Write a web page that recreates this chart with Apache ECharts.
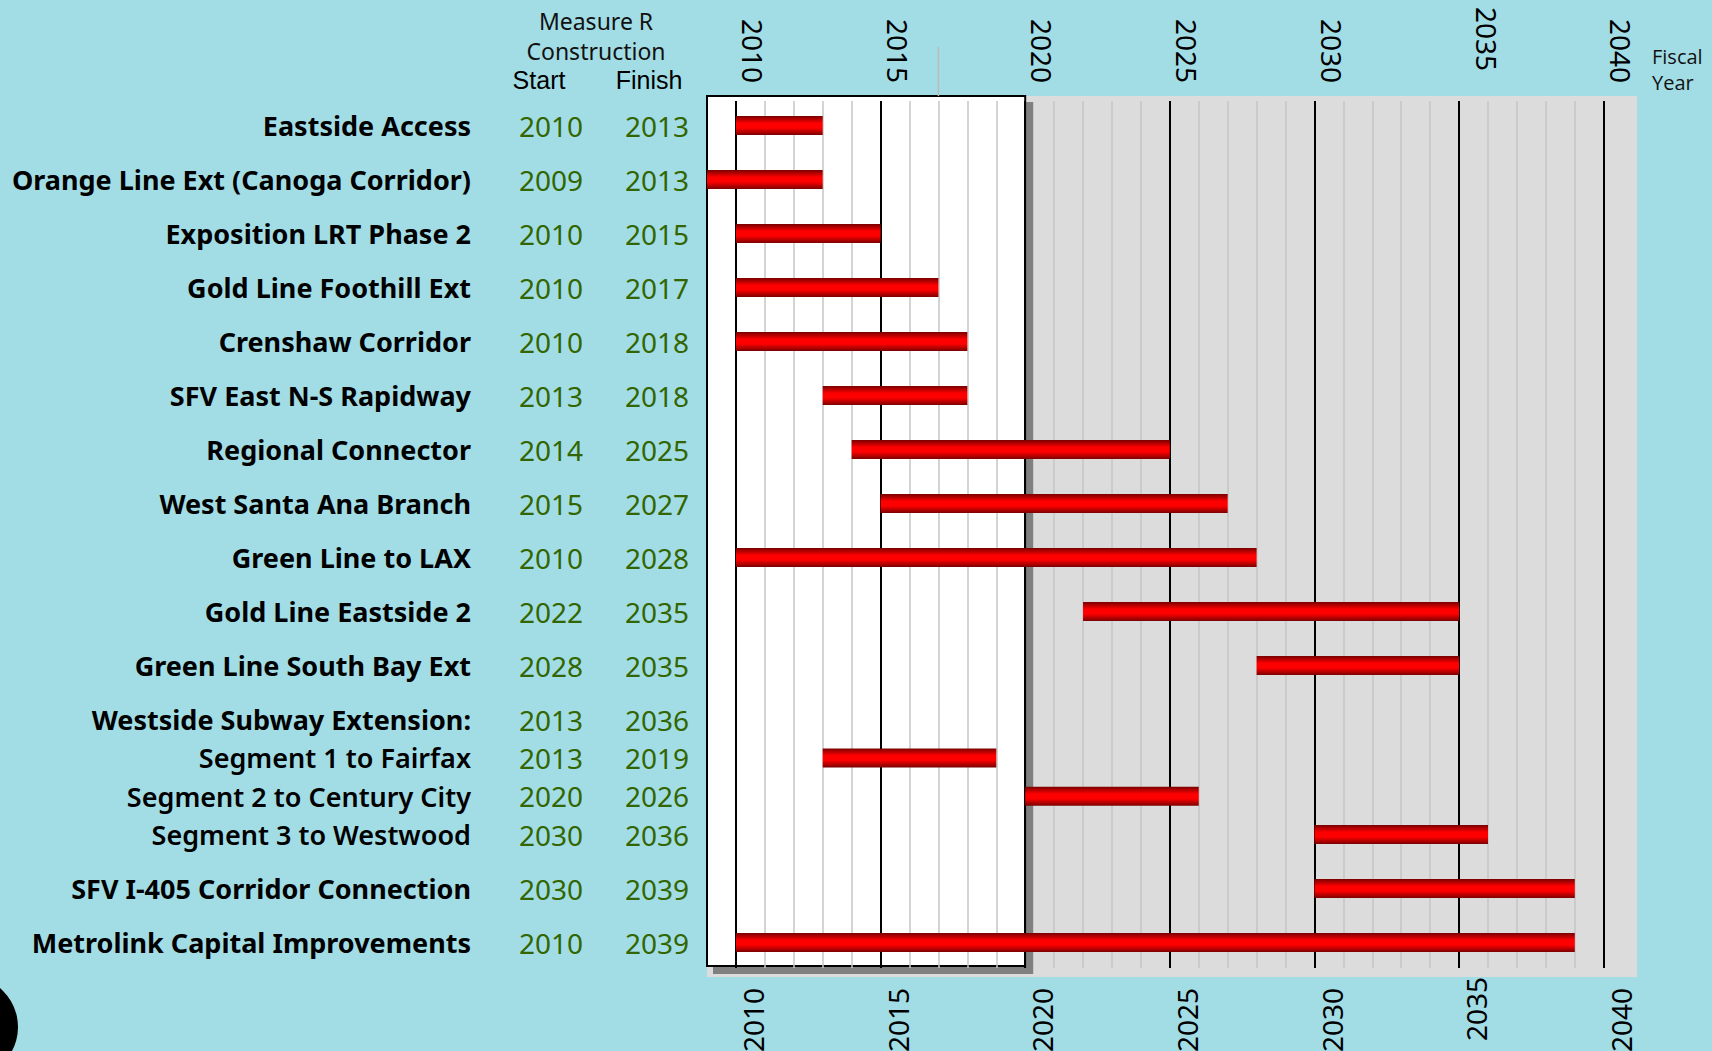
<!DOCTYPE html>
<html>
<head>
<meta charset="utf-8">
<title>Measure R Construction Schedule</title>
<script src="https://cdn.jsdelivr.net/npm/echarts@6.0.0/dist/echarts.min.js"></script>
<style>
  html, body { margin: 0; padding: 0; background: #a2dde6; }
  #chart { width: 1712px; height: 1051px; }
</style>
</head>
<body>
<div id="chart"></div>
<script>
// project rows, top to bottom
const names = [
  'Eastside Access',
  'Orange Line Ext (Canoga Corridor)',
  'Exposition LRT Phase 2',
  'Gold Line Foothill Ext',
  'Crenshaw Corridor',
  'SFV East N-S Rapidway',
  'Regional Connector',
  'West Santa Ana Branch',
  'Green Line to LAX',
  'Gold Line Eastside 2',
  'Green Line South Bay Ext',
  'Westside Subway Extension:',
  'Segment 1 to Fairfax',
  'Segment 2 to Century City',
  'Segment 3 to Westwood',
  'SFV I-405 Corridor Connection',
  'Metrolink Capital Improvements'
]
// main = project, head = group title (no bar), sub = segment of the group
const kinds = ['main', 'main', 'main', 'main', 'main', 'main', 'main', 'main', 'main',
  'main', 'main', 'head', 'sub', 'sub', 'sub', 'main', 'main']
const starts = [2010, 2009, 2010, 2010, 2010, 2013, 2014, 2015, 2010, 2022, 2028,
  2013, 2013, 2020, 2030, 2030, 2010]
const finishes = [2013, 2013, 2015, 2017, 2018, 2018, 2025, 2027, 2028, 2035, 2035,
  2036, 2019, 2026, 2036, 2039, 2039]
const yearTicks = [2010, 2015, 2020, 2025, 2030, 2035, 2040]
// the 2035 label is set a bit apart from the others in the original
const oddTick = [2035]

const X_MIN = 2009
const X_MAX = 2041.15
const LABEL_SHIFT = 0.59   // year labels sit a little right of their line
const Y_MIN = -0.548
const Y_MAX = 15.767
const BAR_H = 19
const GREEN = '#336600'
const FONT = 'Noto Sans'

// row positions: segments are packed closer together
const rowPos = []
let pos = 0
kinds.forEach((k, i) => {
  if (i > 0) pos += (k === 'sub' ? 0.71 : 1)
  rowPos.push(Math.round(pos * 100) / 100)
})

const rowIndex = v => {
  let best = 0
  rowPos.forEach((p, i) => { if (Math.abs(p - v) < Math.abs(rowPos[best] - v)) best = i })
  return best
}

const barData = []
names.forEach((n, i) => {
  if (kinds[i] !== 'head') barData.push([starts[i], finishes[i], rowPos[i]])
})

// vertical grid lines
const Y_TOP = -0.455
const Y_BOT = 15.6
const vline = x => [{ coord: [x, Y_TOP] }, { coord: [x, Y_BOT] }]
const minorLines = []
for (let y = 2010; y <= 2040; y++) {
  if (y % 5 !== 0) minorLines.push(vline(y))
}
const majorLines = yearTicks.map(vline)

const barFill = new echarts.graphic.LinearGradient(0, 0, 0, 1, [
  { offset: 0, color: '#7a0000' },
  { offset: 0.38, color: '#ff0000' },
  { offset: 0.62, color: '#ff0000' },
  { offset: 1, color: '#7a0000' }
])

// axis used only to print year labels
const labelAxis = (position, values, margin, shift) => ({
  type: 'value',
  position: position,
  min: X_MIN - shift,
  max: X_MAX - shift,
  axisLine: { show: false },
  axisTick: { show: false },
  splitLine: { show: false },
  axisLabel: {
    customValues: values,
    rotate: 90,
    margin: margin,
    color: '#000',
    fontFamily: FONT,
    fontSize: 28,
    formatter: v => String(v)
  }
})

const evenTicks = yearTicks.filter(y => oddTick.indexOf(y) < 0)

const chart = echarts.init(document.getElementById('chart'), null, { renderer: 'svg' })

const option = {
  backgroundColor: '#a2dde6',
  animation: false,
  grid: {
    left: 707,
    right: 75,
    top: 96,
    bottom: 74,
    show: true,
    backgroundColor: '#dcdcdc',
    borderWidth: 0,
    outerBoundsMode: 'none'
  },
  xAxis: [
    { type: 'value', min: X_MIN, max: X_MAX, show: false },
    labelAxis('top', evenTicks, 13, LABEL_SHIFT),
    labelAxis('top', oddTick, 25, 0.95),
    labelAxis('bottom', evenTicks, 11, LABEL_SHIFT),
    labelAxis('bottom', oddTick, 0, LABEL_SHIFT)
  ],
  yAxis: {
    type: 'value',
    inverse: true,
    min: Y_MIN,
    max: Y_MAX,
    axisLine: { show: false },
    axisTick: { show: false },
    splitLine: { show: false },
    axisLabel: {
      customValues: rowPos,
      margin: 18,
      formatter: v => {
        const i = rowIndex(v)
        const style = kinds[i] === 'sub' ? 'm' : 'n'
        return '{' + style + '|' + names[i] + '}{s|' + starts[i] + '}{f|' + finishes[i] + '}'
      },
      rich: {
        n: { fontFamily: FONT, fontWeight: 'bold', fontSize: 27, color: '#000', align: 'right' },
        m: { fontFamily: FONT, fontWeight: 600, fontSize: 27, color: '#000', align: 'right' },
        s: { fontFamily: FONT, fontSize: 28, color: GREEN, width: 112, align: 'right' },
        f: { fontFamily: FONT, fontSize: 28, color: GREEN, width: 106, align: 'right' }
      }
    }
  },
  series: [
    {
      name: 'box',
      type: 'line',
      data: [],
      clip: false,
      markArea: {
        silent: true,
        z: 1,
        itemStyle: {
          color: '#ffffff',
          borderColor: '#000',
          borderWidth: 2,
          shadowColor: '#808080',
          shadowOffsetX: 7,
          shadowOffsetY: 7,
          shadowBlur: 0
        },
        data: [[{ coord: [X_MIN, Y_MIN] }, { coord: [2020, 15.563] }]]
      },
      markLine: {
        silent: true,
        z: 2,
        symbol: ['none', 'none'],
        label: { show: false },
        lineStyle: { color: '#c6c6c6', width: 1.5, type: 'solid' },
        data: minorLines
      }
    },
    {
      name: 'major',
      type: 'line',
      data: [],
      markLine: {
        silent: true,
        z: 3,
        symbol: ['none', 'none'],
        label: { show: false },
        lineStyle: { color: '#000', width: 2, type: 'solid' },
        data: majorLines
      }
    },
    {
      name: 'construction',
      type: 'custom',
      z: 10,
      encode: { x: [0, 1], y: 2 },
      renderItem: (params, api) => {
        const a = api.coord([api.value(0), api.value(2)])
        const b = api.coord([api.value(1), api.value(2)])
        return {
          type: 'rect',
          shape: { x: a[0], y: a[1] - BAR_H / 2, width: b[0] - a[0], height: BAR_H },
          style: { fill: barFill }
        }
      },
      data: barData
    }
  ]
}

chart.setOption(option)

// header texts, the fiscal year note and the small marks outside the plot
const x2017 = chart.convertToPixel({ xAxisIndex: 0 }, 2017)
chart.setOption({
  graphic: {
    elements: [
      { type: 'text', x: 596, y: 21, style: { text: 'Measure R', font: '23px "Noto Sans"', fill: '#111', align: 'center', verticalAlign: 'middle' } },
      { type: 'text', x: 596, y: 51, style: { text: 'Construction', font: '23px "Noto Sans"', fill: '#111', align: 'center', verticalAlign: 'middle' } },
      { type: 'text', x: 539, y: 80, style: { text: 'Start', font: '25px "Liberation Sans"', fill: '#000', align: 'center', verticalAlign: 'middle' } },
      { type: 'text', x: 649, y: 80, style: { text: 'Finish', font: '25px "Liberation Sans"', fill: '#000', align: 'center', verticalAlign: 'middle' } },
      { type: 'text', x: 1652, y: 56, style: { text: 'Fiscal', font: '20px "Open Sans"', fill: '#111', align: 'left', verticalAlign: 'middle' } },
      { type: 'text', x: 1652, y: 82, style: { text: 'Year', font: '20px "Open Sans"', fill: '#111', align: 'left', verticalAlign: 'middle' } },
      { type: 'line', shape: { x1: x2017, y1: 47, x2: x2017, y2: 96 }, style: { stroke: '#bbbbbb', lineWidth: 1.5 }, z: 5 },
      { type: 'circle', shape: { cx: -33, cy: 1027, r: 51 }, style: { fill: '#000' } }
    ]
  }
})
</script>
</body>
</html>
